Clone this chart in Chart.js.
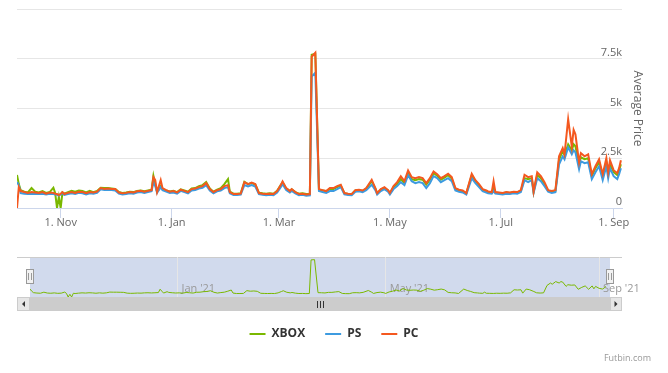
<!DOCTYPE html>
<html>
<head>
<meta charset="utf-8">
<script src="https://cdn.jsdelivr.net/npm/chart.js@4"></script>
<style>
  body { margin: 0; background: #fff; width: 668px; height: 373px; position: relative; overflow: hidden; font-family: 'Open Sans', sans-serif; }
  #priceChart { position: absolute; left: 0; top: 0; }
  #navChart { position: absolute; left: 0; top: 250px; }
  #credit { position: absolute; right: 17px; top: 351px; font-size: 9px; color: #999; }
</style>
</head>
<body>
<canvas id="priceChart" width="668" height="240"></canvas>
<canvas id="navChart" width="668" height="123"></canvas>
<div id="credit">Futbin.com</div>
<script>
// day 0 = 8 Oct 2020
const days = [
  0,1,2,4,6,8,10,12,14,16,
  18,20,21,22,23,24,25,26,28,30,
  32,34,36,38,40,42,44,46,48,50,
  52,54,56,58,60,62,64,66,68,70,
  72,74,75,76,77,79,80,82,84,86,
  88,90,92,94,96,98,100,102,104,106,
  108,110,112,114,116,117,119,121,123,125,
  127,129,131,133,135,137,139,141,143,145,
  146,148,150,151,153,155,157,159,161,162,
  164,166,168,170,172,174,176,178,180,182,
  184,186,188,190,192,195,197,198,200,202,
  204,205,207,209,211,213,215,217,219,221,
  223,225,227,229,231,233,235,237,239,241,
  243,245,247,250,252,254,256,258,259,261,
  262,263,265,267,269,271,273,275,277,279,
  281,283,284,286,288,290,292,294,296,298,
  300,301,303,305,306,307,309,310,312,314,
  316,318,320,322,324,325,326,328,330,331,332
];

const xbox = [
  1660,1200,900,820,780,1000,820,780,850,760,
  800,1020,750,0,560,0,780,720,800,860,
  820,880,850,780,860,800,860,1020,1000,1000,
  980,960,800,760,780,820,800,860,880,840,
  880,920,1620,1200,820,1100,950,880,830,860,
  800,940,880,820,980,1000,1100,1150,1300,980,
  820,920,1000,1200,1450,820,720,720,740,1320,
  1200,1250,1180,770,740,720,740,720,860,1150,
  1300,980,860,940,800,720,740,700,720,7700,
  7750,900,880,840,960,960,1050,1120,740,700,
  690,880,900,860,960,1350,980,740,920,1000,
  880,740,1050,1200,1450,1250,1750,1450,1400,1450,
  1420,1180,1420,1750,1620,1420,1520,1650,1480,950,
  880,850,730,1650,1350,1150,900,840,800,770,
  1000,780,760,740,780,760,800,780,860,1500,
  1450,1500,800,1650,1500,1200,870,820,860,2400,
  2900,2650,3200,2900,3200,3100,2200,2550,2450,2500,
  1600,2000,2300,1600,2300,1700,2200,1800,1650,1900,2200
];

const ps = [
  1300,1150,750,720,700,720,700,700,720,680,
  720,700,680,660,620,680,740,660,700,740,
  700,760,740,680,740,720,760,940,900,920,
  900,880,720,680,700,740,720,780,800,760,
  800,840,1300,1100,760,1050,900,820,760,780,
  720,860,800,740,880,900,980,1020,1150,880,
  740,840,880,1000,1050,740,650,650,670,1150,
  1080,1150,1080,700,660,640,660,640,780,1050,
  1200,900,780,860,740,640,660,620,640,6600,
  6800,850,800,760,850,850,950,1050,680,650,
  640,820,840,800,900,1170,900,680,850,950,
  820,680,950,1100,1300,1150,1650,1350,1250,1300,
  1250,1000,1250,1600,1500,1300,1400,1500,1350,880,
  820,780,680,1500,1250,1050,850,780,740,720,
  850,720,700,680,720,700,740,720,800,1400,
  1300,1400,760,1500,1350,1100,820,760,800,2200,
  2600,2450,3050,2700,2900,2800,1950,2350,2250,2300,
  1450,1800,2100,1400,2100,1500,2000,1600,1450,1700,2000
];

const pc = [
  0,1050,850,800,760,800,780,760,800,720,
  780,760,720,700,650,720,800,700,760,800,
  760,820,800,740,800,780,820,1000,960,980,
  960,950,780,740,760,800,780,840,860,820,
  860,900,1550,1400,800,1400,1000,900,820,850,
  780,920,860,800,950,980,1050,1100,1250,950,
  800,900,950,1100,1150,800,700,700,720,1300,
  1200,1280,1200,750,720,700,720,700,850,1150,
  1340,1000,850,950,800,700,720,680,700,7600,
  7800,950,900,850,1000,1000,1100,1170,750,720,
  700,900,920,880,1000,1420,1000,750,950,1050,
  900,760,1100,1300,1590,1350,1890,1550,1500,1550,
  1500,1250,1500,1840,1700,1500,1600,1720,1550,1000,
  920,880,750,1720,1400,1200,950,880,830,800,
  1340,800,780,750,800,780,820,800,900,1670,
  1550,1600,830,1790,1600,1300,900,850,900,2600,
  3010,2700,4460,3080,3930,3700,2300,2760,2600,2700,
  1700,2100,2450,1700,2500,1800,2400,1900,1750,2000,2400
];

const seriesNames = ['XBOX', 'PS', 'PC'];
const seriesColors = ['#7ab800', '#3d9be0', '#f4581f'];

const mainTickDays = [24, 85, 144, 205, 266, 328];
const mainTickLabels = ['1. Nov', '1. Jan', '1. Mar', '1. May', '1. Jul', '1. Sep'];
const navTickDays = [85, 205, 328];
const navTickLabels = ["Jan '21", "May '21", "Sep '21"];

Chart.defaults.font.family = "'Open Sans', sans-serif";
Chart.defaults.color = '#666';

const toPoints = vals => days.map((d, i) => ({ x: d, y: vals[i] }));

const priceChart = new Chart(document.getElementById('priceChart'), {
    type: 'line',
    data: {
        datasets: [
            { label: seriesNames[0], data: toPoints(xbox), borderColor: seriesColors[0], order: 3 },
            { label: seriesNames[1], data: toPoints(ps), borderColor: seriesColors[1], order: 2 },
            { label: seriesNames[2], data: toPoints(pc), borderColor: seriesColors[2], order: 1 }
        ]
    },
    options: {
        responsive: false,
        animation: false,
        elements: { point: { radius: 0 }, line: { borderWidth: 2, tension: 0 } },
        layout: { padding: { left: 17, top: 9, right: 0, bottom: 0 } },
        plugins: { legend: { display: false }, tooltip: { enabled: false } },
        scales: {
            x: {
                type: 'linear', min: 0, max: 332.6,
                afterBuildTicks: s => { s.ticks = mainTickDays.map(v => ({ value: v })); },
                afterFit: s => { s.height = 32; },
                grid: { drawOnChartArea: false, color: '#ccd6eb', tickLength: 10 },
                border: { color: '#ccd6eb' },
                ticks: { autoSkip: false, maxRotation: 0, padding: -2, color: '#666', font: { size: 11 },
                         callback: (v, i) => mainTickLabels[i] }
            },
            y: {
                position: 'right', min: 0, max: 10000,
                afterFit: s => { s.width = 46; },
                grid: { color: '#e6e6e6', drawTicks: false },
                border: { display: false },
                ticks: { stepSize: 2500, mirror: true, padding: 0, labelOffset: -6, color: '#666', font: { size: 11 },
                         callback: v => v === 10000 ? '' : (v === 0 ? '0' : (v / 1000) + 'k') },
                title: { display: true, text: 'Average Price', color: '#666', font: { size: 12 }, padding: { top: 23, bottom: 0 } }
            }
        }
    }
});

const navigatorDecor = {
    id: 'navigatorDecor',
    beforeDraw(chart) {
        const { ctx, chartArea: a } = chart;
        ctx.save();
        ctx.fillStyle = 'rgba(102,133,194,0.3)';
        ctx.fillRect(a.left, a.top, a.right - a.left, a.bottom - a.top);
        ctx.strokeStyle = '#cccccc';
        ctx.lineWidth = 1;
        ctx.beginPath();
        ctx.moveTo(17, a.top + 0.5);
        ctx.lineTo(622, a.top + 0.5);
        ctx.stroke();
        ctx.restore();
    },
    afterDraw(chart) {
        const { ctx, chartArea: a } = chart;
        const sy = a.bottom, sh = 14, x0 = 17, x1 = 622;
        const my = sy + sh / 2;
        ctx.save();
        ctx.lineWidth = 1;
        // scrollbar
        ctx.fillStyle = '#f2f2f2';
        ctx.fillRect(x0, sy, x1 - x0, sh);
        ctx.fillStyle = '#cccccc';
        ctx.fillRect(a.left, sy, a.right - a.left, sh);
        ctx.fillStyle = '#e6e6e6';
        ctx.strokeStyle = '#cccccc';
        ctx.fillRect(x0, sy, a.left - x0, sh);
        ctx.strokeRect(x0 + 0.5, sy + 0.5, a.left - x0 - 1, sh - 1);
        ctx.fillRect(a.right, sy, x1 - a.right, sh);
        ctx.strokeRect(a.right + 0.5, sy + 0.5, x1 - a.right - 1, sh - 1);
        ctx.fillStyle = '#333';
        let cx = (x0 + a.left) / 2;
        ctx.beginPath(); ctx.moveTo(cx - 1.5, my); ctx.lineTo(cx + 1.5, my - 3); ctx.lineTo(cx + 1.5, my + 3); ctx.fill();
        cx = (a.right + x1) / 2;
        ctx.beginPath(); ctx.moveTo(cx + 1.5, my); ctx.lineTo(cx - 1.5, my - 3); ctx.lineTo(cx - 1.5, my + 3); ctx.fill();
        ctx.strokeStyle = '#333';
        const gx = Math.round((a.left + a.right) / 2);
        [-3, 0, 3].forEach(dx => {
            ctx.beginPath(); ctx.moveTo(gx + dx + 0.5, my - 3); ctx.lineTo(gx + dx + 0.5, my + 4); ctx.stroke();
        });
        // handles
        const hy = a.top + 12;
        [a.left, a.right].forEach(hx => {
            hx = Math.round(hx);
            ctx.fillStyle = '#f2f2f2';
            ctx.strokeStyle = '#999';
            ctx.fillRect(hx - 4, hy, 8, 15);
            ctx.strokeRect(hx - 3.5, hy + 0.5, 7, 14);
            ctx.beginPath();
            ctx.moveTo(hx - 1.5, hy + 4); ctx.lineTo(hx - 1.5, hy + 11);
            ctx.moveTo(hx + 1.5, hy + 4); ctx.lineTo(hx + 1.5, hy + 11);
            ctx.stroke();
        });
        ctx.restore();
    }
};

const navChart = new Chart(document.getElementById('navChart'), {
    type: 'line',
    data: {
        datasets: [{ label: seriesNames[0], data: toPoints(xbox), borderColor: seriesColors[0], borderWidth: 1 }]
    },
    options: {
        responsive: false,
        animation: false,
        elements: { point: { radius: 0 }, line: { tension: 0 } },
        layout: { padding: { top: 7, bottom: 23, left: 0, right: 0 } },
        plugins: {
            tooltip: { enabled: false },
            legend: {
                position: 'bottom',
                onClick: null,
                labels: {
                    usePointStyle: true, pointStyleWidth: 16, padding: 20,
                    color: '#333', font: { size: 12, weight: 'bold' },
                    generateLabels: () => seriesNames.map((n, i) => ({
                        text: n, strokeStyle: seriesColors[i], fillStyle: seriesColors[i],
                        lineWidth: 2, pointStyle: 'line', hidden: false, fontColor: '#333', datasetIndex: i
                    }))
                }
            }
        },
        scales: {
            x: {
                type: 'linear', min: 0, max: 334.3,
                afterBuildTicks: s => { s.ticks = navTickDays.map(v => ({ value: v })); },
                afterFit: s => { s.height = 11; },
                grid: { color: '#e6e6e6', drawTicks: false },
                border: { display: false },
                ticks: { autoSkip: false, maxRotation: 0, mirror: true, align: 'start', labelOffset: 4, padding: 1.5,
                         color: '#999', font: { size: 11 }, callback: (v, i) => navTickLabels[i] }
            },
            y: {
                min: 0, max: 8300, display: true,
                afterFit: s => { s.width = 30; },
                ticks: { display: false }, grid: { display: false }, border: { display: false }
            },
            y2: {
                position: 'right', min: 0, max: 8300, display: true,
                afterFit: s => { s.width = 58; },
                ticks: { display: false }, grid: { display: false }, border: { display: false }
            }
        }
    },
    plugins: [navigatorDecor]
});
</script>
</body>
</html>
